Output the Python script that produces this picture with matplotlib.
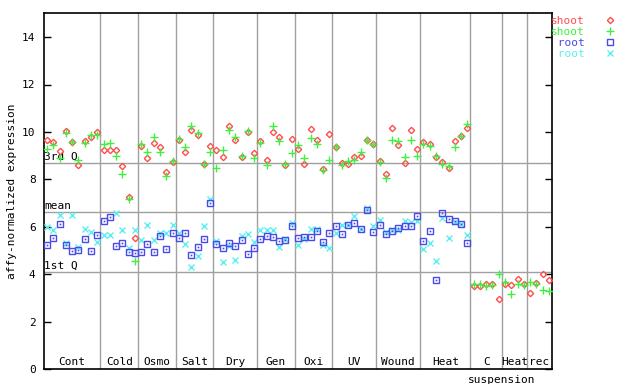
import numpy as np
import matplotlib
matplotlib.use('Agg')
import matplotlib.pyplot as plt
from matplotlib.lines import Line2D

nan = np.nan

groups = ['Cont', 'Cold', 'Osmo', 'Salt', 'Dry', 'Gen', 'Oxi', 'UV', 'Wound', 'Heat', 'C', 'Heat', 'rec']
group_sizes = [9, 6, 6, 6, 7, 6, 6, 7, 7, 8, 5, 4, 4]

shoot_a = [9.66, 9.58, 9.20, 10.04, 9.59, 8.61, 9.62, 9.80, 9.98,
           9.22, 9.22, 9.22, 8.58, 7.26, 5.53,
           9.42, 8.92, 9.54, 9.38, 8.30, 8.73,
           9.68, 9.16, 10.10, 9.89, 8.65, 9.42,
           9.22, 8.94, 10.25, 9.66, 8.94, 10.00, 9.11,
           9.62, 8.82, 10.00, 9.80, 8.59, 9.70,
           9.28, 8.65, 10.13, 9.68, 8.44, 9.92,
           9.38, 8.68, 8.65, 8.96, 8.99, 9.66, 9.49,
           8.78, 8.25, 10.17, 9.45, 8.69, 10.08, 9.28,
           9.58, 9.51, 8.96, 8.73, 8.48, 9.62, 9.84, 10.17,
           3.53, 3.53, 3.59, 3.60, 2.97,
           3.59, 3.54, 3.81, 3.59,
           3.21, 3.63, 4.01, 3.77]
shoot_b = [9.30, 9.45, 8.92, 9.97, 9.56, 8.80, 9.54, 9.87, 9.89,
           9.49, 9.52, 9.00, 8.24, 7.19, 4.57,
           9.49, 9.16, 9.80, 9.16, 8.16, 8.78,
           9.70, 9.38, 10.24, 9.97, 8.65, 9.16,
           8.48, 9.24, 10.08, 9.80, 8.99, 10.05, 8.90,
           9.54, 8.62, 10.25, 9.62, 8.65, 9.11,
           9.46, 8.90, 9.76, 9.49, 8.38, 8.82,
           9.38, 8.61, 8.78, 8.82, 9.16, 9.66, 9.49,
           8.72, 8.06, 9.66, 9.62, 8.94, 9.66, 9.00,
           9.49, 9.42, 8.99, 8.65, 8.57, 9.38, 9.82, 10.35,
           3.59, 3.59, 3.50, 3.56, 4.01,
           3.68, 3.18, 3.59, 3.56,
           3.68, 3.60, 3.35, 3.29]
root_a = [5.23, 5.53, 6.12, 5.24, 4.99, 5.02, 5.49, 4.99, 5.65,
          6.24, 6.41, 5.19, 5.33, 4.94, 4.89,
          4.94, 5.27, 4.94, 5.61, 5.06, 5.74,
          5.53, 5.74, 4.81, 5.15, 5.49, 7.00,
          5.27, 5.10, 5.33, 5.19, 5.44, 4.85, 5.10,
          5.49, 5.61, 5.57, 5.40, 5.46, 6.03,
          5.53, 5.57, 5.57, 5.82, 5.36, 5.74,
          6.03, 5.70, 6.07, 6.16, 5.91, 6.71, 5.78,
          6.07, 5.70, 5.82, 5.95, 6.03, 6.03, 6.45,
          5.40, 5.82, 3.76, 6.58, 6.33, 6.24, 6.12, 5.32,
          nan, nan, nan, nan, nan, nan, nan, nan, nan, nan, nan, nan, nan]
root_b = [6.00, 5.86, 6.52, 5.33, 6.52, 5.16, 5.92, 5.78, 5.37,
          5.65, 5.65, 6.58, 5.86, 5.12, 5.86,
          5.44, 6.07, 5.44, 5.76, 5.76, 6.07,
          5.74, 5.27, 4.30, 4.78, 6.03, 7.17,
          5.40, 4.51, 5.19, 4.60, 5.60, 5.71, 5.36,
          5.86, 5.86, 5.86, 5.15, 5.49, 6.16,
          5.23, 5.49, 5.91, 5.91, 5.23, 5.10,
          5.74, 6.07, 6.07, 6.45, 5.91, 6.79, 6.03,
          6.29, 5.78, 5.86, 5.86, 6.24, 6.20, 6.24,
          5.06, 5.32, 4.56, 6.37, 5.53, 6.20, 6.12, 5.65,
          nan, nan, nan, nan, nan, nan, nan, nan, nan, nan, nan, nan, nan]

ref_lines = [('3rd Q', 8.69), ('mean', 6.62), ('1st Q', 4.09)]

RED, GREEN, BLUE, CYAN = '#ff4d4d', '#40f040', '#4a4ae8', '#5af0f0'
GRID = '#a0a0a0'
FONT = 'DejaVu Sans Mono'
FS = 8

plt.rcParams['font.family'] = FONT
fig = plt.figure(figsize=(6.4, 3.84), dpi=100)
ax = fig.add_axes([44 / 640, 1 - 369.3 / 384, 508 / 640, 356 / 384])

n = sum(group_sizes)
x = np.arange(n) + 0.5
ax.set_xlim(0, n)
ax.set_ylim(0, 15)

# separators and reference lines
bounds = np.cumsum(group_sizes)[:-1]
for b in bounds:
    ax.axvline(b, color=GRID, lw=1, zorder=1)
for lab, v in ref_lines:
    ax.axhline(v, color=GRID, lw=1, zorder=1)
    ax.text(0.05, v + 0.05, lab, fontsize=FS, ha='left', va='bottom', zorder=2)

ax.plot(x, root_b, ls='none', marker='x', ms=4, mew=1, color=CYAN, zorder=3)
ax.plot(x, root_a, ls='none', marker='s', ms=4, mew=1, mfc='none', mec=BLUE, zorder=4)
ax.plot(x, root_a, ls='none', marker='s', ms=1.2, mew=0, color=BLUE, zorder=4)
ax.plot(x, shoot_a, ls='none', marker='D', ms=3.2, mew=1, mfc='none', mec=RED, zorder=5)
ax.plot(x, shoot_b, ls='none', marker='+', ms=5.5, mew=1, color=GREEN, zorder=6)

# group labels
starts = np.concatenate([[0], np.cumsum(group_sizes)[:-1]])
for g, s, k in zip(groups, starts, group_sizes):
    ax.text(s + k / 2, 0.1, g, fontsize=FS, ha='center', va='bottom')
ax.text(starts[11], -0.25, 'suspension', fontsize=FS, ha='center', va='top', clip_on=False)

ax.set_yticks(range(0, 15, 2))
ax.set_xticks([])
ax.tick_params(axis='y', direction='in', length=5, width=1, labelsize=FS, pad=6,
               right=True)
for sp in ax.spines.values():
    sp.set_linewidth(1.2)
ax.set_ylabel('affy-normalized expression', fontsize=FS, labelpad=4)

handles = [Line2D([], [], ls='none', marker='D', ms=3.2, mfc='none', mec=RED),
           Line2D([], [], ls='none', marker='+', ms=5.5, color=GREEN),
           Line2D([], [], ls='none', marker='s', ms=4, mfc='none', mec=BLUE),
           Line2D([], [], ls='none', marker='x', ms=4, color=CYAN)]
leg = fig.legend(handles, ['shoot', 'shoot', ' root', ' root'],
                 loc='upper left', bbox_to_anchor=(551 / 640, 1 - 16 / 384),
                 frameon=False, markerfirst=False, fontsize=FS,
                 handlelength=1, handletextpad=1.8, labelspacing=0.1,
                 borderpad=0, borderaxespad=0,
                 labelcolor=[RED, GREEN, BLUE, CYAN])

fig.savefig('out.png', dpi=100)
